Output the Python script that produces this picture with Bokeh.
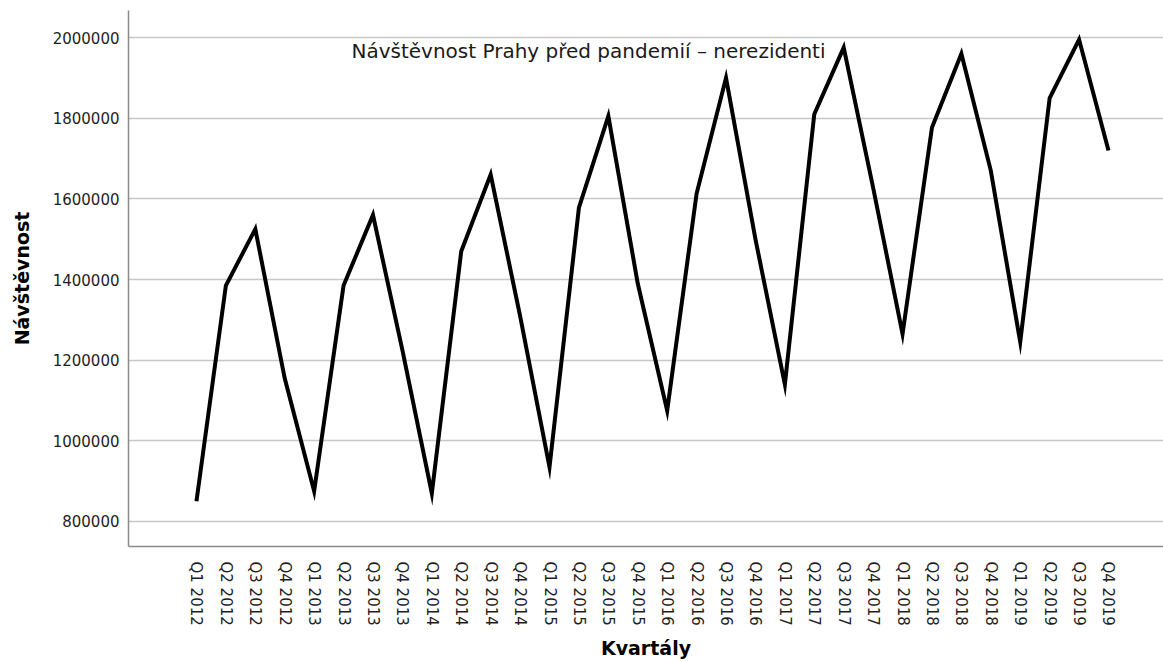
import math
from bokeh.plotting import figure
from bokeh.models import Range1d, FixedTicker, BasicTickFormatter, Label
from bokeh.embed import file_html
from bokeh.resources import INLINE

quarters = ["Q1 2012", "Q2 2012", "Q3 2012", "Q4 2012",
            "Q1 2013", "Q2 2013", "Q3 2013", "Q4 2013",
            "Q1 2014", "Q2 2014", "Q3 2014", "Q4 2014",
            "Q1 2015", "Q2 2015", "Q3 2015", "Q4 2015",
            "Q1 2016", "Q2 2016", "Q3 2016", "Q4 2016",
            "Q1 2017", "Q2 2017", "Q3 2017", "Q4 2017",
            "Q1 2018", "Q2 2018", "Q3 2018", "Q4 2018",
            "Q1 2019", "Q2 2019", "Q3 2019", "Q4 2019"]

visitors = [850000, 1385000, 1525000, 1155000,
            875000, 1385000, 1560000, 1225000,
            870000, 1470000, 1660000, 1310000,
            935000, 1578000, 1805000, 1390000,
            1075000, 1613000, 1900000, 1500000,
            1140000, 1810000, 1975000, 1628000,
            1265000, 1777000, 1960000, 1670000,
            1245000, 1850000, 1995000, 1720000]

y_ticks = [800000, 1000000, 1200000, 1400000, 1600000, 1800000, 2000000]

title_text = "Návštěvnost Prahy před pandemií – nerezidenti"
x_title = "Kvartály"
y_title = "Návštěvnost"

x_idx = list(range(len(quarters)))

p = figure(width=1163, height=661, output_backend="svg", toolbar_location=None,
           x_range=Range1d(-2.31, len(quarters) - 1 + 1.87),
           y_range=Range1d(738000, 2067000))
p.min_border_left = 128
p.min_border_right = 0
p.min_border_top = 10
p.min_border_bottom = 115
p.outline_line_color = None
p.background_fill_color = "white"
p.border_fill_color = "white"

p.line(x_idx, visitors, line_color="black", line_width=4, line_join="miter")

# axes
p.xaxis.ticker = FixedTicker(ticks=x_idx)
p.xaxis.major_label_overrides = {i: q for i, q in enumerate(quarters)}
p.xaxis.major_label_orientation = -math.pi / 2
p.yaxis.ticker = FixedTicker(ticks=y_ticks)
p.yaxis.formatter = BasicTickFormatter(use_scientific=False)

for ax in (p.xaxis[0], p.yaxis[0]):
    ax.major_tick_line_color = None
    ax.minor_tick_line_color = None
    ax.axis_line_color = "#8a8a8a"
    ax.axis_line_width = 1.5
    ax.major_label_text_font = "DejaVu Sans"
    ax.major_label_text_font_size = "15px"
    ax.major_label_text_color = "#1e1e1e"
    ax.axis_label_text_font = "DejaVu Sans"
    ax.axis_label_text_font_size = "19px"
    ax.axis_label_text_font_style = "bold"
    ax.axis_label_text_color = "black"

p.yaxis.axis_label = y_title
p.xaxis.axis_label = x_title
p.xaxis.major_label_standoff = 9
p.yaxis.major_label_standoff = 3
p.yaxis.axis_label_standoff = 17
p.xaxis.axis_label_standoff = 8

p.xgrid.grid_line_color = None
p.ygrid.grid_line_color = "#c8c8c8"
p.ygrid.grid_line_width = 1.5

p.add_layout(Label(x=460, y=496, x_units="screen", y_units="screen",
                   text=title_text, text_align="center", text_baseline="middle",
                   text_font="DejaVu Sans", text_font_size="20px",
                   text_color="#1a1a1a"))

open("out.html", "w").write(file_html(p, INLINE))
